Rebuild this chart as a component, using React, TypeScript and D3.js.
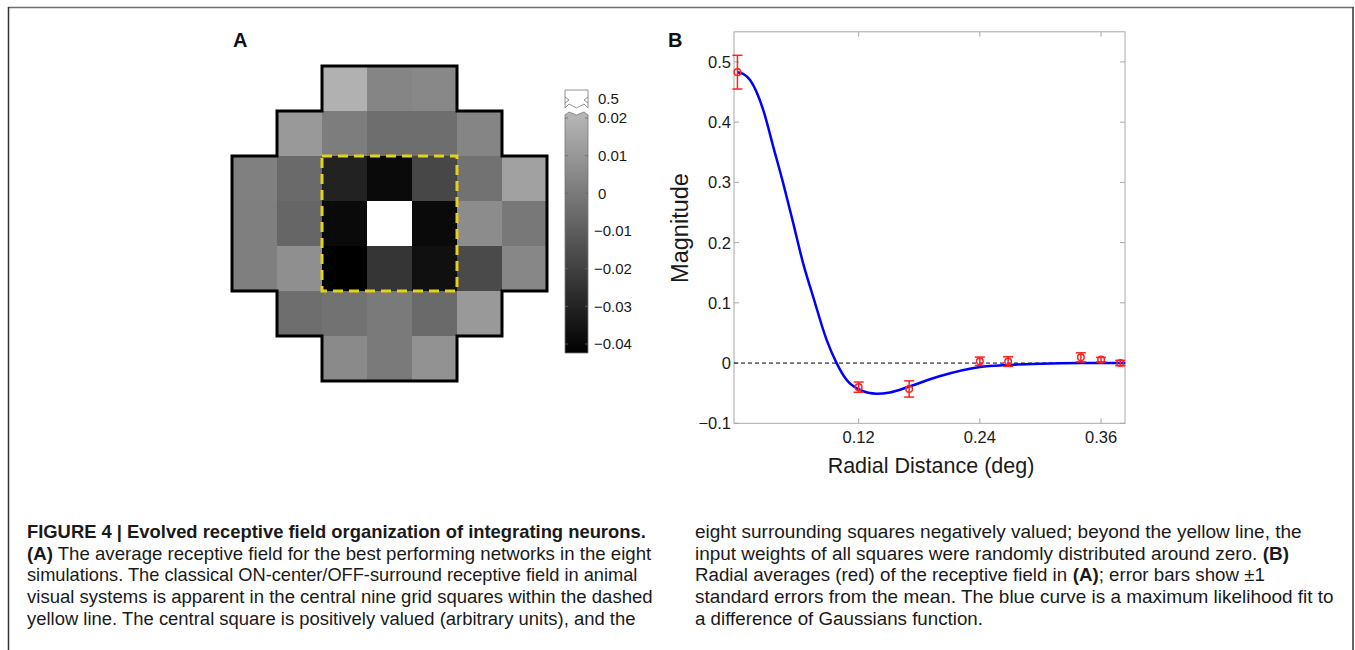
import React from "react";
import * as d3 from "d3";

// ---------- Panel A: average receptive field (7x7 grid, null = outside field)
const gridValues: (number | null)[][] = [
  [null, null, 0.0185, 0.0036, 0.0046, null, null],
  [null, 0.0105, 0.0008, -0.0044, -0.0044, 0.0036, null],
  [0.0019, -0.0058, -0.0308, -0.0391, -0.018, -0.003, 0.013],
  [0.0015, -0.0072, -0.0391, 0.5, -0.0391, 0.006, -0.001],
  [0.0015, 0.007, -0.0426, -0.0242, -0.0367, -0.017, 0.004],
  [null, -0.0044, -0.003, -0.0002, -0.0058, 0.0105, null],
  [null, null, 0.0053, -0.0002, 0.008, null, null],
];
const colorbarTicks = [0.02, 0.01, 0, -0.01, -0.02, -0.03, -0.04];
const colorbarBreakLabel = "0.5";

// ---------- Panel B: radial averages and DoG fit
const radialDist = [0, 0.12, 0.17, 0.24, 0.268, 0.34, 0.36, 0.379];
const radialMean = [0.483, -0.04, -0.043, 0.003, 0.0025, 0.0095, 0.0057, 0.0];
const radialErr = [0.028, 0.0085, 0.0135, 0.007, 0.008, 0.0075, 0.0037, 0.0045];
const fitX = [0, 0.006, 0.0125, 0.0256, 0.0355, 0.0454, 0.0553, 0.065, 0.075, 0.0883, 0.0982, 0.108, 0.121, 0.1378, 0.151, 0.17, 0.2, 0.24, 0.268, 0.3, 0.34, 0.384];
const fitY = [0.483, 0.48, 0.47, 0.42, 0.359, 0.298, 0.232, 0.166, 0.11, 0.0386, 0, -0.0277, -0.0443, -0.0509, -0.0487, -0.039, -0.022, -0.0066, -0.003, -0.001, 0, 0];
const yTicks = [-0.1, 0, 0.1, 0.2, 0.3, 0.4, 0.5];
const xTicks = [0.12, 0.24, 0.36];

// ---------- Caption
const captionLeft = [
  [{ t: "FIGURE 4 | Evolved receptive field organization of integrating neurons.", b: true }],
  [{ t: "(A)", b: true }, { t: " The average receptive field for the best performing networks in the eight", b: false }],
  [{ t: "simulations. The classical ON-center/OFF-surround receptive field in animal", b: false }],
  [{ t: "visual systems is apparent in the central nine grid squares within the dashed", b: false }],
  [{ t: "yellow line. The central square is positively valued (arbitrary units), and the", b: false }],
];
const captionRight = [
  [{ t: "eight surrounding squares negatively valued; beyond the yellow line, the", b: false }],
  [{ t: "input weights of all squares were randomly distributed around zero. ", b: false }, { t: "(B)", b: true }],
  [{ t: "Radial averages (red) of the receptive field in ", b: false }, { t: "(A)", b: true }, { t: "; error bars show \u00b11", b: false }],
  [{ t: "standard errors from the mean. The blue curve is a maximum likelihood fit to", b: false }],
  [{ t: "a difference of Gaussians function.", b: false }],
];
const captionLeftEnds = [646, 652, 638, 653, 636];
const captionRightEnds = [1302, 1289, 1265, 1334, 983];

const fmt = (v: number) => (v < 0 ? "\u2212" + String(Math.abs(v)) : String(v));
const SANS = "'Liberation Sans', Arial, Helvetica, sans-serif";
const CAP_FONT = "'Liberation Sans', Arial, sans-serif";
const CAP_SIZE = 19;

let measureCtx: CanvasRenderingContext2D | null = null;
function measure(s: string, bold: boolean): number {
  if (!measureCtx && typeof document !== "undefined") {
    measureCtx = document.createElement("canvas").getContext("2d");
  }
  if (!measureCtx) return s.length * CAP_SIZE * 0.5;
  measureCtx.font = `${bold ? "bold " : ""}${CAP_SIZE}px ${CAP_FONT}`;
  return measureCtx.measureText(s).width;
}

export default function App() {
  // Panel A scales
  const colX = d3.scaleBand<number>().domain(d3.range(7)).range([232, 547]);
  const rowY = d3.scaleBand<number>().domain(d3.range(7)).range([66, 381]);
  const bw = colX.bandwidth();
  const bh = rowY.bandwidth();
  const cbY = d3.scaleLinear().domain([-0.04, 0.02]).range([344, 118]);
  const cbBottom = 353;
  const cbTop = 114;
  const gray = d3
    .scaleLinear<string>()
    .domain([cbY.invert(cbBottom), cbY.invert(cbTop), 0.5])
    .range(["#000000", "#b8b8b8", "#ffffff"])
    .clamp(true);

  const ext = gridValues.map((r) => {
    const a = r.findIndex((v) => v !== null);
    let b = r.length - 1;
    while (r[b] === null) b--;
    return [a, b];
  });
  const pts: [number, number][] = [];
  ext.forEach(([, b], r) => {
    const xr = (colX(b) as number) + bw;
    pts.push([xr, rowY(r) as number], [xr, (rowY(r) as number) + bh]);
  });
  for (let r = ext.length - 1; r >= 0; r--) {
    const xl = colX(ext[r][0]) as number;
    pts.push([xl, (rowY(r) as number) + bh], [xl, rowY(r) as number]);
  }
  const outline = "M" + pts.map((p) => p.join(",")).join("L") + "Z";

  // Panel B scales
  const x = d3.scaleLinear().domain([-0.0034, 0.3837]).range([734, 1125]);
  const y = d3.scaleLinear().domain([-0.1, 0.55]).range([423.3, 31.8]);
  const fitLine = d3
    .line<number>()
    .x((_, i) => x(fitX[i]))
    .y((d) => y(d))
    .curve(d3.curveMonotoneX)(fitY) as string;
  const [x0, x1] = x.range();
  const [y0, y1] = y.range();
  const axisGray = "#a8a8a8";

  const cbL = 565;
  const cbR = 588;

  const renderLine = (segs: { t: string; b: boolean }[], xs: number, xe: number, yb: number, key: string) => {
    const widths = segs.map((s) => measure(s.t, s.b));
    const total = d3.sum(widths);
    const k = (xe - xs) / total;
    const offs: number[] = [];
    let acc = 0;
    widths.forEach((w) => {
      offs.push(acc);
      acc += w;
    });
    return (
      <g key={key} transform={`translate(${xs},${yb}) scale(${k},1)`}>
        {segs.map((s, i) => (
          <text
            key={i}
            x={offs[i]}
            y={0}
            fontFamily={CAP_FONT}
            fontSize={CAP_SIZE}
            fontWeight={s.b ? "bold" : "normal"}
            fill="#1a1a1a"
            style={{ whiteSpace: "pre" }}
          >
            {s.t}
          </text>
        ))}
      </g>
    );
  };

  return (
    <svg width={1355} height={650} style={{ position: "absolute", left: 0, top: 0, background: "#fff" }}>
      <rect x={0} y={0} width={1355} height={650} fill="#ffffff" />
      {/* frame */}
      <line x1={8} y1={7.5} x2={1353.5} y2={7.5} stroke="#6e6e6e" strokeWidth={1.5} />
      <line x1={8.5} y1={7} x2={8.5} y2={650} stroke="#333" strokeWidth={1.5} />
      <line x1={1353} y1={7} x2={1353} y2={650} stroke="#333" strokeWidth={1.5} />

      {/* Panel A */}
      <text x={233} y={47} fontFamily={SANS} fontWeight="bold" fontSize={20} fill="#111">A</text>
      {gridValues.map((row, r) =>
        row.map((v, c) =>
          v === null ? null : (
            <rect key={`c${r}-${c}`} x={colX(c)} y={rowY(r)} width={bw + 0.5} height={bh + 0.5} fill={gray(v)} />
          )
        )
      )}
      <path d={outline} fill="none" stroke="#000" strokeWidth={3} strokeLinejoin="miter" />
      <rect
        x={colX(2)}
        y={rowY(2)}
        width={bw * 3}
        height={bh * 3}
        fill="none"
        stroke="#e3d21c"
        strokeWidth={3}
        strokeDasharray="10 6"
      />

      {/* colorbar */}
      <defs>
        <linearGradient id="cbgrad" x1="0" y1="1" x2="0" y2="0">
          <stop offset="0" stopColor={gray(cbY.invert(cbBottom))} />
          <stop offset="1" stopColor={gray(cbY.invert(cbTop))} />
        </linearGradient>
      </defs>
      <path
        d={`M${cbL},${cbTop + 1} L${cbL + 4},${cbTop - 2} L${cbL + 11.5},${cbTop + 1} L${cbR - 4},${cbTop - 2} L${cbR},${cbTop + 1} V${cbBottom} H${cbL} Z`}
        fill="url(#cbgrad)"
        stroke="#777"
        strokeWidth={0.8}
      />
      <path
        d={`M${cbL},90 H${cbR} V108 L${cbR - 4},104 L${cbL + 11.5},108 L${cbL + 4},104 L${cbL},108 Z`}
        fill="#fff"
        stroke="#777"
        strokeWidth={0.8}
      />
      <path d={`M${cbL},97 L${cbL + 4},100 L${cbL},103`} fill="none" stroke="#777" strokeWidth={0.8} />
      <path d={`M${cbR},97 L${cbR - 4},100 L${cbR},103`} fill="none" stroke="#777" strokeWidth={0.8} />
      <text x={598} y={99} dy="0.35em" fontFamily={SANS} fontSize={15} fill="#1a1a1a">{colorbarBreakLabel}</text>
      {colorbarTicks.map((t) => (
        <g key={`cb${t}`}>
          <line x1={cbL} y1={cbY(t)} x2={cbL + 3} y2={cbY(t)} stroke="#666" strokeWidth={0.8} />
          <line x1={cbR - 3} y1={cbY(t)} x2={cbR} y2={cbY(t)} stroke="#666" strokeWidth={0.8} />
          <text x={t < 0 ? 594 : 598} y={cbY(t)} dy="0.35em" fontFamily={SANS} fontSize={15} fill="#1a1a1a">
            {fmt(t)}
          </text>
        </g>
      ))}

      {/* Panel B */}
      <text x={668} y={47} fontFamily={SANS} fontWeight="bold" fontSize={20} fill="#111">B</text>
      <rect x={x0} y={y1} width={x1 - x0} height={y0 - y1} fill="none" stroke={axisGray} strokeWidth={1} />
      {yTicks.map((t) => (
        <g key={`y${t}`}>
          <line x1={x0} y1={y(t)} x2={x0 + 5} y2={y(t)} stroke={axisGray} />
          <line x1={x1 - 5} y1={y(t)} x2={x1} y2={y(t)} stroke={axisGray} />
          <text x={731} y={y(t)} dy="0.36em" textAnchor="end" fontFamily={SANS} fontSize={16.5} fill="#1a1a1a">
            {fmt(t)}
          </text>
        </g>
      ))}
      {xTicks.map((t) => (
        <g key={`x${t}`}>
          <line x1={x(t)} y1={y0} x2={x(t)} y2={y0 - 5} stroke={axisGray} />
          <line x1={x(t)} y1={y1} x2={x(t)} y2={y1 + 5} stroke={axisGray} />
          <text x={x(t)} y={443} textAnchor="middle" fontFamily={SANS} fontSize={16.5} fill="#1a1a1a">
            {fmt(t)}
          </text>
        </g>
      ))}
      <line x1={x0} y1={y(0)} x2={x1} y2={y(0)} stroke="#000" strokeWidth={1} strokeDasharray="4 3" />
      <path d={fitLine} fill="none" stroke="#0000ff" strokeWidth={2.5} />
      {radialDist.map((d, i) => {
        const cx = x(d);
        const top = y(radialMean[i] + radialErr[i]);
        const bot = y(radialMean[i] - radialErr[i]);
        return (
          <g key={`e${i}`} stroke="#ff2020" strokeWidth={1.5} fill="none">
            <line x1={cx} y1={top} x2={cx} y2={bot} />
            <line x1={cx - 5} y1={top} x2={cx + 5} y2={top} />
            <line x1={cx - 5} y1={bot} x2={cx + 5} y2={bot} />
            <circle cx={cx} cy={y(radialMean[i])} r={3.3} />
          </g>
        );
      })}
      <text transform="translate(688,228) rotate(-90)" textAnchor="middle" fontFamily={SANS} fontSize={23.5} fill="#1a1a1a">
        Magnitude
      </text>
      <text x={931} y={473} textAnchor="middle" fontFamily={SANS} fontSize={21.5} fill="#1a1a1a">
        Radial Distance (deg)
      </text>

      {/* caption */}
      {captionLeft.map((segs, i) => renderLine(segs, 27, captionLeftEnds[i], 538 + i * 21.7, `l${i}`))}
      {captionRight.map((segs, i) => renderLine(segs, 695, captionRightEnds[i], 538 + i * 21.7, `r${i}`))}
    </svg>
  );
}
